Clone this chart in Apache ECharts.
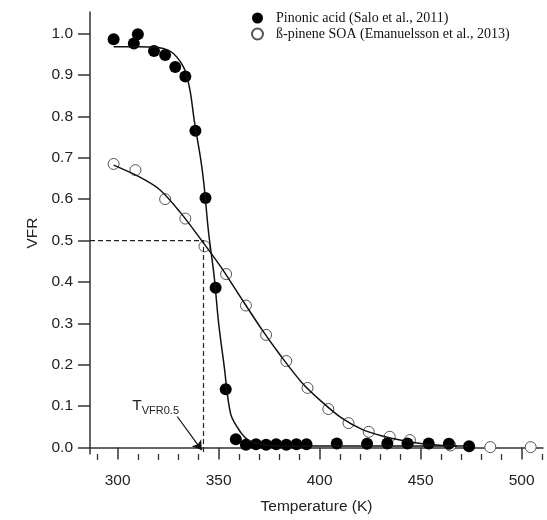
<!DOCTYPE html>
<html>
<head>
<meta charset="utf-8">
<script src="https://cdn.jsdelivr.net/npm/echarts@6/dist/echarts.min.js"></script>
<style>
  html, body { margin: 0; padding: 0; background: #fff; }
  #main { width: 547px; height: 520px; }
</style>
</head>
<body>
<div id="main"></div>
<script>
// measured points
var pinonicT = [298, 308, 310, 318, 323.5, 328.5, 333.5, 338.5, 343.5, 348.5, 353.5, 358.5, 363.5, 368.5, 373.5, 378.5, 383.5, 388.5, 393.5, 408.5, 423.5, 433.5, 443.5, 454, 464, 474];
var pinonicVFR = [0.986, 0.976, 0.998, 0.958, 0.948, 0.919, 0.896, 0.765, 0.603, 0.386, 0.141, 0.02, 0.007, 0.008, 0.007, 0.008, 0.007, 0.008, 0.008, 0.01, 0.009, 0.01, 0.01, 0.01, 0.009, 0.003];
var soaT = [298, 308.8, 323.5, 333.5, 343, 353.7, 363.5, 373.5, 383.5, 394, 404.3, 414.3, 424.3, 434.7, 444.7, 464.7, 484.5, 504.5];
var soaVFR = [0.685, 0.670, 0.600, 0.553, 0.486, 0.419, 0.343, 0.272, 0.209, 0.144, 0.093, 0.059, 0.038, 0.026, 0.018, 0.005, 0.001, 0.001];

// fitted curves
var pinonicFitT = [298, 310, 320, 325, 328, 331, 333.5, 336, 338, 341, 342.7, 345, 347.7, 350, 352.7, 356, 361, 365, 370, 380, 474];
var pinonicFitV = [0.968, 0.968, 0.966, 0.96, 0.95, 0.932, 0.909, 0.858, 0.787, 0.70, 0.637, 0.52, 0.417, 0.30, 0.198, 0.08, 0.036, 0.017, 0.008, 0.004, 0.004];
var soaFitT = [298, 311, 321, 331, 341, 351, 361, 371, 381, 391, 401, 411, 421, 431, 441, 451, 461, 468];
var soaFitV = [0.682, 0.653, 0.622, 0.568, 0.504, 0.437, 0.362, 0.288, 0.22, 0.158, 0.111, 0.071, 0.044, 0.028, 0.017, 0.009, 0.005, 0.004];

// T_VFR0.5 guide
var dashT = [286.3, 342.5, 342.5];
var dashV = [0.5, 0.5, -0.0156];

var yTicks = [0, 0.1, 0.2, 0.3, 0.4, 0.5, 0.6, 0.7, 0.8, 0.9, 1.0];
var xMajor = [300, 350, 400, 450, 500];
var xMinor = [290, 310, 320, 330, 340, 360, 370, 380, 390, 410, 420, 430, 440, 460, 470, 480, 490, 510];

function zip(a, b) {
  var out = [];
  for (var i = 0; i < a.length; i++) out.push([a[i], b[i]]);
  return out;
}

var chart = echarts.init(document.getElementById("main"));
var sans = "Liberation Sans, Arial, sans-serif";
var serif = "Liberation Serif, Times New Roman, serif";

var option = {
  animation: false,
  grid: { left: 90, right: 4, top: 12, bottom: 56.7 },
  legend: {
    data: ["Pinonic acid (Salo et al., 2011)", "ß-pinene SOA (Emanuelsson et al., 2013)"],
    orient: "vertical",
    left: 246,
    top: 6,
    itemGap: 2,
    itemWidth: 11,
    itemHeight: 11,
    textStyle: { fontFamily: serif, fontSize: 14, color: "#111", padding: [0, 0, 0, 8] }
  },
  xAxis: [
    {
      type: "value",
      min: 286.3,
      max: 510.6,
      name: "Temperature (K)",
      nameLocation: "middle",
      nameGap: 45,
      nameTextStyle: { fontFamily: sans, fontSize: 15.5, color: "#222" },
      axisLine: { show: true, lineStyle: { color: "#333", width: 1.5 } },
      axisTick: { show: true, customValues: xMajor, length: 12, lineStyle: { color: "#333", width: 1.5 } },
      axisLabel: { customValues: xMajor, margin: 19, fontFamily: sans, fontSize: 15.5, color: "#222" },
      splitLine: { show: false }
    },
    {
      type: "value",
      min: 286.3,
      max: 510.6,
      position: "bottom",
      axisLine: { show: false },
      axisTick: { show: true, customValues: xMinor, length: 6, lineStyle: { color: "#333", width: 1.3 } },
      axisLabel: { show: false },
      splitLine: { show: false }
    }
  ],
  yAxis: {
    type: "value",
    min: -0.0156,
    max: 1.052,
    name: "VFR",
    nameLocation: "middle",
    nameGap: 45,
    nameTextStyle: { fontFamily: sans, fontSize: 15.5, color: "#222" },
    axisLine: { show: true, lineStyle: { color: "#333", width: 1.5 } },
    axisTick: { show: true, customValues: yTicks, length: 12, lineStyle: { color: "#333", width: 1.5 } },
    axisLabel: {
      customValues: yTicks,
      margin: 17,
      fontFamily: sans,
      fontSize: 15.5,
      color: "#222",
      formatter: function(v) { return v.toFixed(1); }
    },
    splitLine: { show: false }
  },
  series: [
    {
      name: "guide",
      type: "line",
      data: zip(dashT, dashV),
      showSymbol: false,
      silent: true,
      lineStyle: { color: "#222", width: 1.2, type: [5, 3] },
      markLine: {
        silent: true,
        symbol: ["none", "arrow"],
        symbolSize: 9,
        label: { show: false },
        lineStyle: { color: "#111", width: 1.2, type: "solid" },
        data: [[{ coord: [329.5, 0.075] }, { coord: [341.6, -0.006] }]]
      },
      markPoint: {
        symbol: "circle",
        symbolSize: 1,
        itemStyle: { color: "rgba(0,0,0,0)" },
        label: {
          show: true,
          position: "right",
          formatter: "{a|T}{b|VFR0.5}",
          rich: {
            a: { fontFamily: sans, fontSize: 15.5, color: "#222" },
            b: { fontFamily: sans, fontSize: 11, color: "#222", padding: [9, 0, 0, 0] }
          }
        },
        data: [{ coord: [304.5, 0.1] }]
      }
    },
    {
      name: "pinonicFit",
      type: "line",
      data: zip(pinonicFitT, pinonicFitV),
      smooth: 0.3,
      showSymbol: false,
      lineStyle: { color: "#111", width: 1.5 }
    },
    {
      name: "soaFit",
      type: "line",
      data: zip(soaFitT, soaFitV),
      smooth: 0.3,
      showSymbol: false,
      lineStyle: { color: "#111", width: 1.5 }
    },
    {
      name: "ß-pinene SOA (Emanuelsson et al., 2013)",
      type: "scatter",
      data: zip(soaT, soaVFR),
      symbol: "circle",
      symbolSize: 11,
      itemStyle: { color: "#fff", borderColor: "#555", borderWidth: 1, opacity: 1 }
    },
    {
      name: "Pinonic acid (Salo et al., 2011)",
      type: "scatter",
      data: zip(pinonicT, pinonicVFR),
      symbol: "circle",
      symbolSize: 12,
      itemStyle: { color: "#000", opacity: 1 }
    }
  ]
};
chart.setOption(option);
</script>
</body>
</html>
